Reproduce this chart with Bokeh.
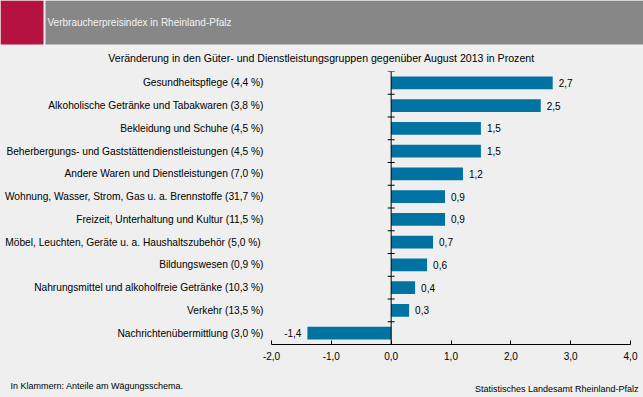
from bokeh.plotting import figure
from bokeh.models import Label, Span, FixedTicker, ColumnDataSource, Range1d
from bokeh.layouts import column
from bokeh.core.properties import value
from bokeh.embed import file_html
from bokeh.resources import INLINE

categories = [
    "Gesundheitspflege (4,4 %)",
    "Alkoholische Getränke und Tabakwaren (3,8 %)",
    "Bekleidung und Schuhe (4,5 %)",
    "Beherbergungs- und Gaststättendienstleistungen (4,5 %)",
    "Andere Waren und Dienstleistungen (7,0 %)",
    "Wohnung, Wasser, Strom, Gas u. a. Brennstoffe (31,7 %)",
    "Freizeit, Unterhaltung und Kultur (11,5 %)",
    "Möbel, Leuchten, Geräte u. a. Haushaltszubehör  (5,0 %)",
    "Bildungswesen (0,9 %)",
    "Nahrungsmittel und alkoholfreie Getränke (10,3 %)",
    "Verkehr (13,5 %)",
    "Nachrichtenübermittlung (3,0 %)",
]
values = [2.7, 2.5, 1.5, 1.5, 1.2, 0.9, 0.9, 0.7, 0.6, 0.4, 0.3, -1.4]
x_ticks = [-2, -1, 0, 1, 2, 3, 4]
x_tick_labels = ["-2,0", "-1,0", "0,0", "1,0", "2,0", "3,0", "4,0"]

header_title = "Verbraucherpreisindex in Rheinland-Pfalz"
subtitle = "Veränderung in den Güter- und Dienstleistungsgruppen gegenüber August 2013 in Prozent"
note_left = "In Klammern: Anteile am Wägungsschema."
note_right = "Statistisches Landesamt Rheinland-Pfalz"

FONT = "Liberation Sans"
BG = "#EEEFEE"
BAR = "#0073A2"
W = 643
HEAD_H, MAIN_H, FOOT_H = 64, 308, 25


def plain(fig):
    fig.background_fill_color = BG
    fig.border_fill_color = BG
    fig.outline_line_color = None
    fig.xgrid.grid_line_color = None
    fig.ygrid.grid_line_color = None
    return fig


def no_align(fig):
    try:
        fig.frame_align = False
    except Exception:
        pass
    return fig


# ---------- header ----------
h = plain(figure(width=W, height=HEAD_H, x_range=Range1d(0, W), y_range=Range1d(HEAD_H, 0),
                 x_axis_type=None, y_axis_type=None, output_backend="svg",
                 toolbar_location=None, min_border=0))
no_align(h)
h.quad(left=[0, 45], right=[43, W], top=[0, 0], bottom=[44, 44],
       fill_color=["#B5123F", "#878788"], line_color=None)
h.add_layout(Label(x=47, y=22, text=header_title, text_font=FONT, text_font_size="10px",
                   text_color="#F2F2F2", text_baseline="middle", text_align="left"))
h.add_layout(Label(x=321, y=57, text=subtitle, text_font=FONT, text_font_size="10.6px",
                   text_color="#000000", text_baseline="middle", text_align="center"))

# ---------- main chart ----------
FL, FR, FT, FB = 271, 630, 7, 280  # frame edges in local pixels
p = plain(figure(width=W, height=MAIN_H, y_range=list(reversed(categories)), x_range=(-2, 4),
                 output_backend="svg", toolbar_location=None,
                 min_border_left=FL, min_border_right=W - FR,
                 min_border_top=FT, min_border_bottom=MAIN_H - FB))
no_align(p)

src = ColumnDataSource(dict(cat=categories, val=values))
p.hbar(y="cat", right="val", left=0, height=0.57, source=src, fill_color=BAR, line_color=None)


def fmt(v):
    return f"{v:.1f}".replace(".", ",")


pos = ColumnDataSource(dict(cat=[c for c, v in zip(categories, values) if v >= 0],
                            val=[v for v in values if v >= 0],
                            lbl=[fmt(v) for v in values if v >= 0]))
neg = ColumnDataSource(dict(cat=[c for c, v in zip(categories, values) if v < 0],
                            val=[v for v in values if v < 0],
                            lbl=[fmt(v) for v in values if v < 0]))
p.text(x="val", y="cat", text="lbl", source=pos, x_offset=6, text_align="left",
       text_baseline="middle", text_font=value(FONT), text_font_size="10px", text_color="#000000")
p.text(x="val", y="cat", text="lbl", source=neg, x_offset=-6, text_align="right",
       text_baseline="middle", text_font=value(FONT), text_font_size="10px", text_color="#000000")

# zero line with ticks at the category boundaries
p.add_layout(Span(location=0, dimension="height", line_color="#000000", line_width=1))
p.scatter(x=[0] * (len(categories) + 1), y=list(range(len(categories) + 1)), marker="dash",
          size=7, line_color="#000000", line_width=1)

p.yaxis.axis_line_color = None
p.yaxis.major_tick_line_color = None
p.yaxis.major_tick_in = 0
p.yaxis.major_tick_out = 0
p.yaxis.minor_tick_line_color = None
p.yaxis.major_label_standoff = 8
p.yaxis.major_label_text_font = FONT
p.yaxis.major_label_text_font_size = "10.2px"
p.yaxis.major_label_text_color = "#000000"

p.xaxis.ticker = FixedTicker(ticks=x_ticks)
p.xaxis.major_label_overrides = {t: l for t, l in zip(x_ticks, x_tick_labels)}
p.xaxis.axis_line_color = "#000000"
p.xaxis.major_tick_line_color = "#000000"
p.xaxis.major_tick_in = 4
p.xaxis.major_tick_out = 0
p.xaxis.minor_tick_line_color = None
p.xaxis.major_label_standoff = 7
p.xaxis.major_label_text_font = FONT
p.xaxis.major_label_text_font_size = "10px"
p.xaxis.major_label_text_color = "#000000"

# ---------- footer ----------
f = plain(figure(width=W, height=FOOT_H, x_range=Range1d(0, W), y_range=Range1d(FOOT_H, 0),
                 x_axis_type=None, y_axis_type=None, output_backend="svg",
                 toolbar_location=None, min_border=0))
no_align(f)
f.add_layout(Label(x=10, y=13, text=note_left, text_font=FONT, text_font_size="9px",
                   text_color="#000000", text_baseline="middle", text_align="left"))
f.add_layout(Label(x=638, y=16, text=note_right, text_font=FONT, text_font_size="9px",
                   text_color="#000000", text_baseline="middle", text_align="right"))

layout = column(h, p, f, spacing=0)
try:
    layout.styles = {"background-color": BG}
except Exception:
    pass
open("out.html", "w").write(file_html(layout, INLINE))
